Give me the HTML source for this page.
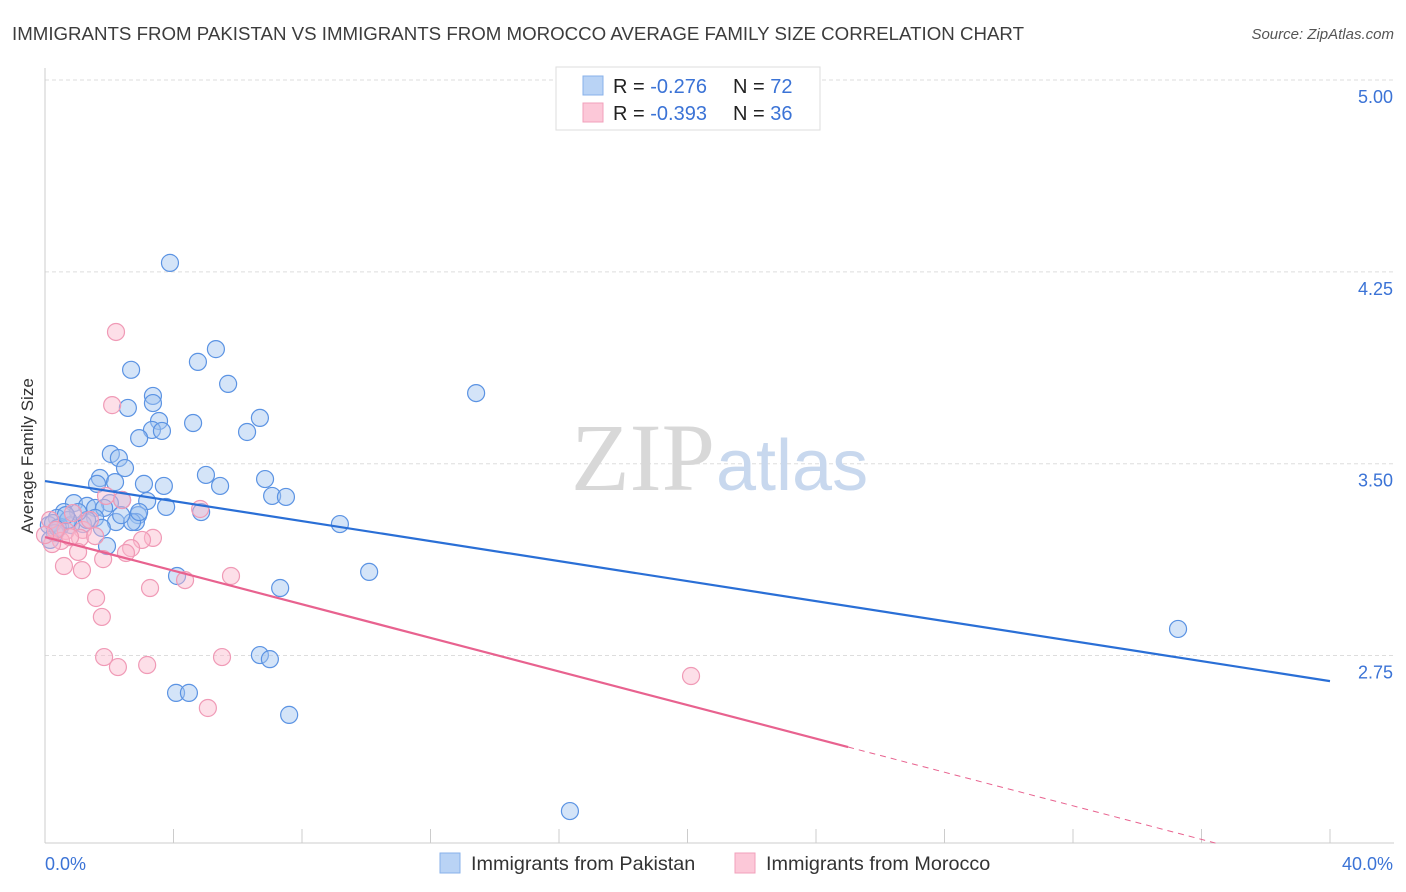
<!DOCTYPE html>
<html><head><meta charset="utf-8"><style>
body{margin:0;background:#fff;font-family:"Liberation Sans",sans-serif}
svg{display:block}
</style></head><body>
<svg id="c" width="1406" height="892">
<text x="12" y="40" font-size="18.7" fill="#3c3c3c">IMMIGRANTS FROM PAKISTAN VS IMMIGRANTS FROM MOROCCO AVERAGE FAMILY SIZE CORRELATION CHART</text>
<text x="1394" y="39" font-size="15" fill="#555" font-style="italic" text-anchor="end">Source: ZipAtlas.com</text>
<text x="33" y="456" font-size="17" fill="#333" text-anchor="middle" transform="rotate(-90 33 456)">Average Family Size</text>
<g id="grid"></g>
<text x="715" y="490" font-size="96" fill="#d8d8d8" text-anchor="end" font-family="Liberation Serif,serif">ZIP</text>
<text x="716" y="490" font-size="72" fill="#c8d8ee">atlas</text>
<g id="pts"></g>
<g id="lines"></g>
<g>
<rect x="556" y="67" width="264" height="63" fill="#fff" stroke="#ddd"/>
<rect x="583" y="76" width="20" height="19" fill="#b9d3f5" stroke="#88b2ea"/>
<rect x="583" y="103" width="20" height="19" fill="#fcc8d8" stroke="#f2a0bb"/>
<text x="613" y="93" font-size="20" fill="#222">R = <tspan fill="#3b73d6">-0.276</tspan><tspan x="733">N = </tspan><tspan fill="#3b73d6">72</tspan></text>
<text x="613" y="120" font-size="20" fill="#222">R = <tspan fill="#3b73d6">-0.393</tspan><tspan x="733">N = </tspan><tspan fill="#3b73d6">36</tspan></text>
</g>
<g>
<rect x="440" y="853" width="20" height="20" fill="#b9d3f5" stroke="#88b2ea"/>
<text x="471" y="870" font-size="19.8" fill="#333">Immigrants from Pakistan</text>
<rect x="735" y="853" width="20" height="20" fill="#fcc8d8" stroke="#f2a0bb"/>
<text x="766" y="870" font-size="19.8" fill="#333">Immigrants from Morocco</text>
</g>
<text x="45" y="870" font-size="18" fill="#3b73d6">0.0%</text>
<text x="1393" y="870" font-size="18" fill="#3b73d6" text-anchor="end">40.0%</text>
</svg>
<script>
const yTicks=[5.00,4.25,3.50,2.75];
const yTickLabels=["5.00","4.25","3.50","2.75"];
const xTicks=[0,4,8,12,16,20,24,28,32,36,40];
const pakX=[3.89,5.32,4.76,2.68,5.70,3.36,13.42,3.36,2.58,3.55,4.61,6.69,3.33,3.64,6.29,2.93,2.05,2.30,2.49,5.01,6.85,1.71,5.45,3.70,1.62,3.08,2.18,7.07,7.50,3.18,2.40,0.90,2.02,3.77,4.86,1.31,1.56,1.84,0.59,2.90,0.37,1.56,2.83,2.21,2.71,1.18,0.81,0.12,0.47,0.25,9.18,1.77,1.93,10.09,4.11,7.32,35.27,6.69,7.00,4.08,4.48,7.60,16.34,0.31,0.16,0.40,1.31,1.03,2.37,2.93,0.72,0.65];
const pakY=[4.285,3.948,3.898,3.867,3.812,3.765,3.776,3.737,3.718,3.667,3.659,3.679,3.632,3.628,3.624,3.600,3.538,3.522,3.483,3.456,3.440,3.444,3.413,3.413,3.421,3.421,3.428,3.374,3.370,3.354,3.358,3.346,3.346,3.331,3.311,3.335,3.327,3.327,3.311,3.299,3.288,3.288,3.272,3.272,3.272,3.264,3.260,3.260,3.253,3.268,3.264,3.249,3.178,3.077,3.061,3.014,2.854,2.752,2.736,2.604,2.604,2.518,2.142,3.229,3.202,3.249,3.280,3.311,3.299,3.311,3.280,3.299];
const morX=[2.21,2.09,1.90,2.40,4.83,0.87,0.16,1.18,0.65,1.09,0.50,0.78,1.56,3.36,3.02,2.68,2.52,0.59,1.15,1.03,1.81,5.79,4.36,3.27,1.59,1.77,1.84,2.27,3.18,5.51,20.11,5.07,0.22,0.34,1.40,0.00];
const morY=[4.015,3.729,3.374,3.358,3.323,3.307,3.280,3.241,3.237,3.210,3.198,3.213,3.217,3.210,3.202,3.170,3.151,3.100,3.084,3.155,3.127,3.061,3.045,3.014,2.975,2.901,2.744,2.705,2.713,2.744,2.670,2.545,3.186,3.241,3.280,3.221];
const pakTrend=[3.432,2.650];
const morTrend=[3.213,1.90];
const morSolidEnd=25.0;
const X=v=>45+v/40*1285, Y=v=>80+(5-v)*255.8;
const NS="http://www.w3.org/2000/svg";
function mk(t,a,p){const e=document.createElementNS(NS,t);for(const k in a)e.setAttribute(k,a[k]);p.appendChild(e);return e;}
const g=document.getElementById('grid');
yTicks.forEach((t,i)=>{
 const l=mk('line',{x1:45,x2:1394,y1:Y(t),y2:Y(t),stroke:'#ddd','stroke-dasharray':'4 3'},g);
 
 
 const tx=mk('text',{x:1393,y:Y(t)+23,'font-size':18,fill:'#3b73d6','text-anchor':'end'},g);tx.textContent=yTickLabels[i];
 
 
});
const ax=mk('line',{x1:45,x2:1394,y1:843,y2:843,stroke:'#ccc'},g);


const ay=mk('line',{x1:45,x2:45,y1:68,y2:843,stroke:'#ccc'},g);


xTicks.forEach(t=>{const l=mk('line',{x1:X(t),x2:X(t),y1:829,y2:843,stroke:'#ccc'},g);
 
 });
const p=document.getElementById('pts');
pakX.forEach((x,i)=>{const c=mk('circle',{cx:X(x),cy:Y(pakY[i]),r:8.5,fill:'rgba(160,195,240,0.45)',stroke:'#5b93e3','stroke-width':1.2},p);
 
 });
morX.forEach((x,i)=>{const c=mk('circle',{cx:X(x),cy:Y(morY[i]),r:8.5,fill:'rgba(250,185,205,0.45)',stroke:'#f09ab6','stroke-width':1.2},p);
 
 });
const L=document.getElementById('lines');
const b=mk('line',{x1:X(0),y1:Y(pakTrend[0]),x2:X(40),y2:Y(pakTrend[1]),stroke:'#2a6fd6','stroke-width':2.2},L);


const mAt=x=>morTrend[0]+(morTrend[1]-morTrend[0])*x/40;
const m1=mk('line',{x1:X(0),y1:Y(morTrend[0]),x2:X(morSolidEnd),y2:Y(mAt(morSolidEnd)),stroke:'#e8628f','stroke-width':2.2},L);


const xEnd=40*(morTrend[0]-2.017)/(morTrend[0]-morTrend[1]);
const m2=mk('line',{x1:X(morSolidEnd),y1:Y(mAt(morSolidEnd)),x2:X(xEnd),y2:Y(mAt(xEnd)),stroke:'#e8628f','stroke-width':1,'stroke-dasharray':'6 5'},L);


</script>
</body></html>
